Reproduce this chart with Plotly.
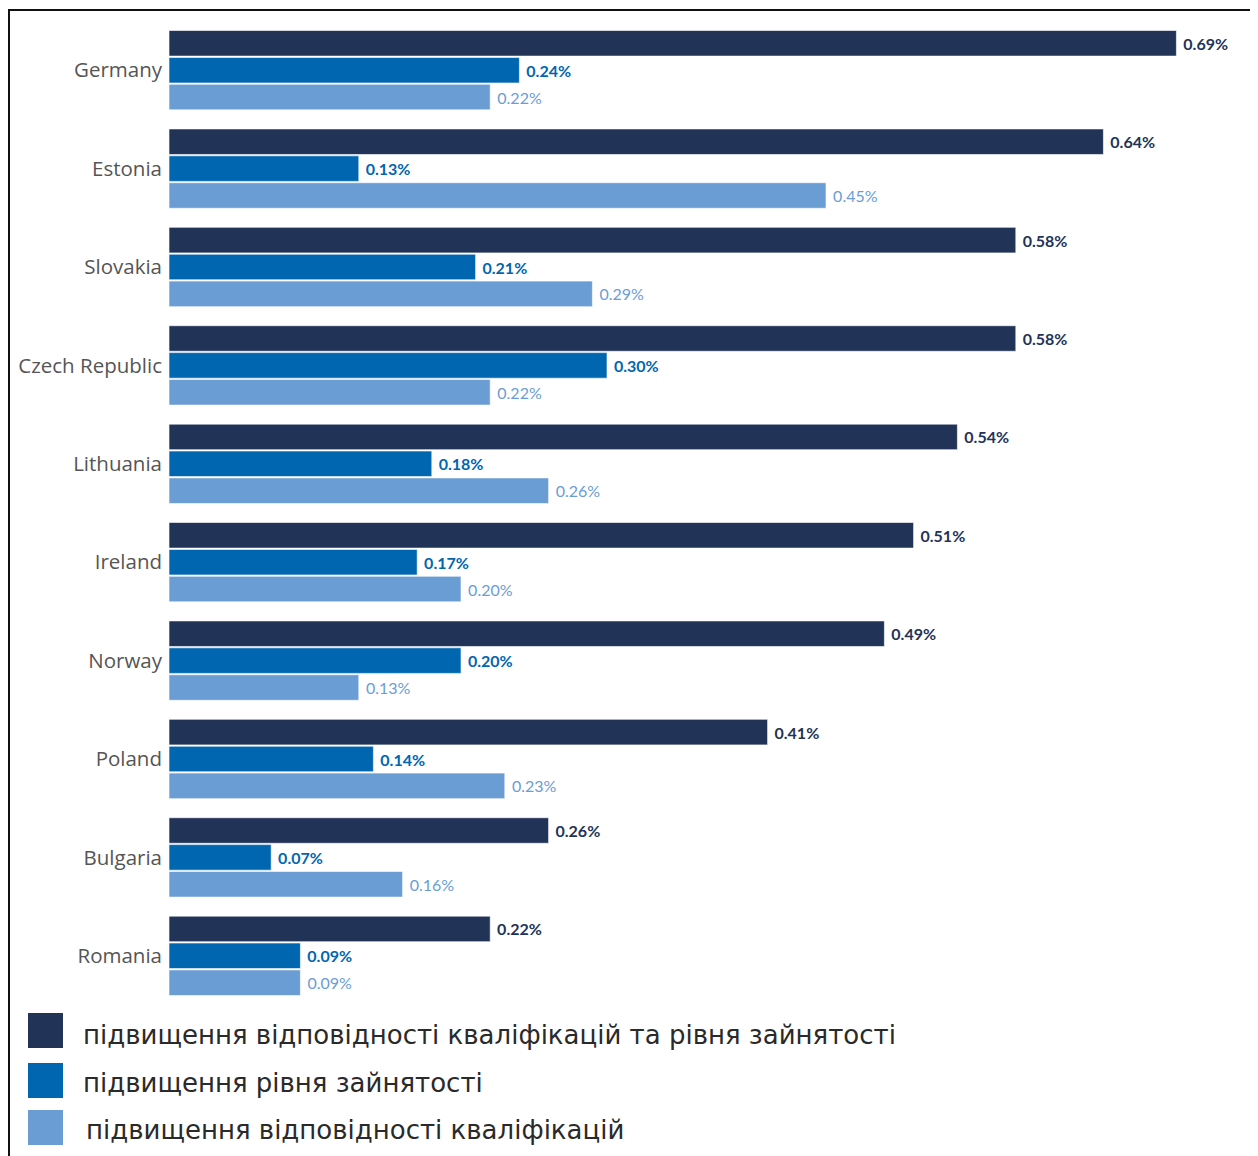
import plotly.graph_objects as go

countries = ["Germany", "Estonia", "Slovakia", "Czech Republic", "Lithuania",
             "Ireland", "Norway", "Poland", "Bulgaria", "Romania"]
both_vals = [0.69, 0.64, 0.58, 0.58, 0.54, 0.51, 0.49, 0.41, 0.26, 0.22]
employment_vals = [0.24, 0.13, 0.21, 0.30, 0.18, 0.17, 0.20, 0.14, 0.07, 0.09]
skills_vals = [0.22, 0.45, 0.29, 0.22, 0.26, 0.20, 0.13, 0.23, 0.16, 0.09]
series_names = [
    "підвищення відповідності кваліфікацій та рівня зайнятості",
    "підвищення рівня зайнятості",
    "підвищення відповідності кваліфікацій",
]
colors = ["#223358", "#0066B0", "#6A9DD4"]
label_colors = ["#223358", "#0066B0", "#6A9DD4"]

OFF = 8  # page body margin
W, H = 1250, 1148
L, R, T, B = 161, 8, 13, 151
plot_w = W - L - R
plot_h = H - T - B


def px_x(px):
    return (px - OFF - L) / plot_w


def px_y(py):
    return (H - B - (py - OFF)) / plot_h


fig = go.Figure()
for name, vals, col, lcol, bold in zip(series_names,
                                       [both_vals, employment_vals, skills_vals],
                                       colors, label_colors, [True, True, False]):
    fig.add_trace(go.Bar(
        y=countries, x=vals, orientation="h", name=name,
        marker=dict(color=col, line=dict(color="rgba(255,255,255,0.6)", width=1)),
        text=["\u00a0" + f"{v:.2f}%" for v in vals], textposition="outside",
        textfont=dict(family="Lato", size=16, color=lcol,
                      weight="bold" if bold else "normal"),
        cliponaxis=False, showlegend=False,
    ))

shapes = []
annotations = []
sq_top = [1013, 1063, 1110]
txt_mid = [1035, 1083, 1130]
txt_x = [81, 81, 84]
for i, (name, col) in enumerate(zip(series_names, colors)):
    y0 = sq_top[i]
    shapes.append(dict(type="rect", xref="paper", yref="paper",
                       x0=px_x(28), x1=px_x(63), y0=px_y(y0 + 35), y1=px_y(y0),
                       fillcolor=col, line=dict(width=0)))
    annotations.append(dict(text=name, xref="paper", yref="paper",
                            x=px_x(txt_x[i]), y=px_y(txt_mid[i]),
                            xanchor="left", yanchor="middle", showarrow=False,
                            font=dict(family="DejaVu Sans", size=26, color="#2a2a2a")))

shapes.append(dict(type="rect", xref="paper", yref="paper",
                   x0=px_x(9), x1=px_x(1266), y0=px_y(1170), y1=px_y(10),
                   line=dict(color="#111111", width=2), fillcolor="rgba(0,0,0,0)"))

fig.update_layout(
    width=W, height=H,
    margin=dict(l=L, r=R, t=T, b=B),
    paper_bgcolor="white", plot_bgcolor="white",
    barmode="group", bargap=0.18, bargroupgap=0.05,
    xaxis=dict(range=[0, plot_w / 1460], visible=False, showgrid=False),
    yaxis=dict(range=[9.5, -0.5], showgrid=False, showline=False, ticks="",
               ticklabelstandoff=6,
               tickfont=dict(family="Open Sans", size=20.5, color="#555555")),
    shapes=shapes, annotations=annotations,
    showlegend=False,
)
fig.write_html("out.html")
